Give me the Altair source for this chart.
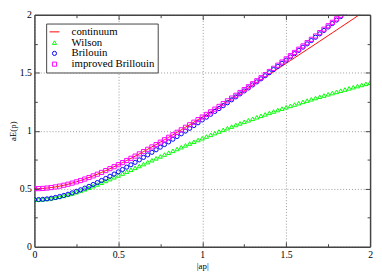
import altair as alt
import pandas as pd

# |ap| sampling grid
P = [0.0, 0.025, 0.05, 0.075, 0.1, 0.125, 0.15, 0.175, 0.2, 0.225,
     0.25, 0.275, 0.3, 0.325, 0.35, 0.375, 0.4, 0.425, 0.45, 0.475,
     0.5, 0.525, 0.55, 0.575, 0.6, 0.625, 0.65, 0.675, 0.7, 0.725,
     0.75, 0.775, 0.8, 0.825, 0.85, 0.875, 0.9, 0.925, 0.95, 0.975,
     1.0, 1.025, 1.05, 1.075, 1.1, 1.125, 1.15, 1.175, 1.2, 1.225,
     1.25, 1.275, 1.3, 1.325, 1.35, 1.375, 1.4, 1.425, 1.45, 1.475,
     1.5, 1.525, 1.55, 1.575, 1.6, 1.625, 1.65, 1.675, 1.7, 1.725,
     1.75, 1.775, 1.8, 1.825, 1.85, 1.875, 1.9, 1.925, 1.95, 1.975,
     2.0]

CONTINUUM = [0.5000, 0.5006, 0.5025, 0.5056, 0.5099, 0.5154, 0.5220, 0.5297, 0.5385, 0.5483,
             0.5590, 0.5706, 0.5831, 0.5963, 0.6103, 0.6250, 0.6403, 0.6562, 0.6727, 0.6897,
             0.7071, 0.7250, 0.7433, 0.7620, 0.7810, 0.8004, 0.8201, 0.8400, 0.8602, 0.8807,
             0.9014, 0.9223, 0.9434, 0.9647, 0.9862, 1.0078, 1.0296, 1.0515, 1.0736, 1.0957,
             1.1180, 1.1405, 1.1630, 1.1856, 1.2083, 1.2311, 1.2540, 1.2770, 1.3000, 1.3231,
             1.3463, 1.3695, 1.3928, 1.4162, 1.4396, 1.4631, 1.4866, 1.5102, 1.5338, 1.5574,
             1.5811, 1.6049, 1.6287, 1.6525, 1.6763, 1.7002, 1.7241, 1.7480, 1.7720, 1.7960,
             1.8200, 1.8441, 1.8682, 1.8923, 1.9164, 1.9405, 1.9647, 1.9889, 2.0131]

WILSON = [0.4055, 0.4062, 0.4083, 0.4118, 0.4166, 0.4227, 0.4301, 0.4385, 0.4480, 0.4585,
          0.4698, 0.4819, 0.4948, 0.5083, 0.5223, 0.5367, 0.5517, 0.5670, 0.5826, 0.5984,
          0.6144, 0.6306, 0.6469, 0.6633, 0.6798, 0.6962, 0.7127, 0.7292, 0.7456, 0.7620,
          0.7783, 0.7945, 0.8106, 0.8266, 0.8425, 0.8583, 0.8739, 0.8894, 0.9047, 0.9199,
          0.9349, 0.9498, 0.9645, 0.9791, 0.9935, 1.0077, 1.0218, 1.0357, 1.0495, 1.0631,
          1.0765, 1.0898, 1.1029, 1.1159, 1.1287, 1.1413, 1.1539, 1.1662, 1.1784, 1.1905,
          1.2024, 1.2142, 1.2258, 1.2373, 1.2487, 1.2599, 1.2710, 1.2820, 1.2928, 1.3036,
          1.3142, 1.3247, 1.3350, 1.3453, 1.3554, 1.3654, 1.3753, 1.3851, 1.3948, 1.4044,
          1.4139]

BRILLOUIN = [0.4055, 0.4062, 0.4085, 0.4124, 0.4177, 0.4244, 0.4325, 0.4419, 0.4524, 0.4640,
             0.4767, 0.4903, 0.5049, 0.5203, 0.5364, 0.5532, 0.5706, 0.5886, 0.6071, 0.6261,
             0.6456, 0.6655, 0.6857, 0.7062, 0.7272, 0.7483, 0.7698, 0.7915, 0.8136, 0.8358,
             0.8582, 0.8808, 0.9037, 0.9267, 0.9499, 0.9733, 0.9969, 1.0206, 1.0445, 1.0685,
             1.0927, 1.1170, 1.1415, 1.1662, 1.1910, 1.2159, 1.2410, 1.2662, 1.2916, 1.3172,
             1.3429, 1.3687, 1.3947, 1.4209, 1.4472, 1.4737, 1.5004, 1.5272, 1.5542, 1.5814,
             1.6088, 1.6364, 1.6642, 1.6922, 1.7204, 1.7488, 1.7774, 1.8062, 1.8353, 1.8646,
             1.8942, 1.9240, 1.9540, 1.9842, 2.0146]

IMPROVED = [0.5000, 0.5006, 0.5025, 0.5056, 0.5099, 0.5154, 0.5220, 0.5297, 0.5385, 0.5483,
            0.5590, 0.5706, 0.5831, 0.5963, 0.6103, 0.6250, 0.6403, 0.6562, 0.6727, 0.6897,
            0.7071, 0.7250, 0.7433, 0.7620, 0.7810, 0.8004, 0.8201, 0.8400, 0.8602, 0.8807,
            0.9014, 0.9223, 0.9434, 0.9647, 0.9862, 1.0078, 1.0296, 1.0515, 1.0736, 1.0957,
            1.1180, 1.1405, 1.1630, 1.1860, 1.2095, 1.2335, 1.2575, 1.2815, 1.3055, 1.3298,
            1.3545, 1.3795, 1.4050, 1.4310, 1.4570, 1.4838, 1.5110, 1.5380, 1.5650, 1.5922,
            1.6196, 1.6472, 1.6750, 1.7030, 1.7312, 1.7596, 1.7882, 1.8170, 1.8461, 1.8754,
            1.9050, 1.9348, 1.9648, 1.9950, 2.0254]

SERIES = ["continuum", "Wilson", "Brilouin", "improved Brillouin"]
COLORS = ["#ff0000", "#00ff00", "#0000ff", "#ff00ff"]
SHAPES = ["M-2.4,0L2.4,0", "triangle-up", "circle", "square"]

X_LABELS = [0, 0.5, 1, 1.5, 2]
MINOR = [0.25, 0.75, 1.25, 1.75]
MAJOR = [0.5, 1, 1.5]

W, H = 343, 237
FRAME = "#444444"
SERIF = "Liberation Serif"

cont_df = pd.DataFrame({"p": P[:len(CONTINUUM)], "E": CONTINUUM, "series": SERIES[0]})
pts_df = pd.concat([
    pd.DataFrame({"p": P[:len(WILSON)], "E": WILSON, "series": SERIES[1]}),
    pd.DataFrame({"p": P[:len(BRILLOUIN)], "E": BRILLOUIN, "series": SERIES[2]}),
    pd.DataFrame({"p": P[:len(IMPROVED)], "E": IMPROVED, "series": SERIES[3]}),
], ignore_index=True)

xs = alt.Scale(domain=[0, 2], nice=False, zero=False)
ys = alt.Scale(domain=[0, 2], nice=False, zero=False)

legend = alt.Legend(title=None, orient="none", legendX=12, legendY=9,
                    fillColor="white", strokeColor=FRAME, padding=3, rowPadding=-1,
                    labelFont=SERIF, labelFontSize=11, labelColor="black",
                    labelOffset=12, symbolStrokeWidth=1, symbolSize=18)

color = alt.Color("series:N", scale=alt.Scale(domain=SERIES, range=COLORS), legend=legend)
shape = alt.Shape("series:N", scale=alt.Scale(domain=SERIES, range=SHAPES), legend=legend)


def main_axis(orient, title, pad):
    return alt.Axis(orient=orient, values=X_LABELS, format="~g", labelFlush=False,
                    labelFont=SERIF, labelFontSize=10, labelColor="black", labelPadding=3,
                    ticks=False, tickSize=0, domain=True, domainColor=FRAME, domainWidth=1.5,
                    grid=True, gridColor="#999999", gridDash=[1, 2], gridWidth=1,
                    title=title, titleFont=SERIF, titleFontSize=9, titleFontWeight="normal",
                    titleColor="black", titlePadding=pad)


def frame_axis(orient):
    return alt.Axis(orient=orient, labels=False, ticks=False, domain=True,
                    domainColor=FRAME, domainWidth=1.5, grid=False, title=None, zindex=1)


def tick_axis(orient, offset, values, tsize):
    return alt.Axis(orient=orient, offset=offset, values=values, tickSize=tsize,
                    tickColor=FRAME, tickWidth=1, labels=False, domain=False,
                    grid=False, title=None, zindex=1)


line = alt.Chart(cont_df).mark_line(strokeWidth=1, clip=True).encode(
    x=alt.X("p:Q", scale=xs, axis=main_axis("bottom", "|ap|", 2)),
    y=alt.Y("E:Q", scale=ys, axis=main_axis("left", "aE(p)", 2)),
    color=color,
)

points = alt.Chart(pts_df).mark_point(filled=False, opacity=1, strokeWidth=1, size=18,
                                      clip=True).encode(
    x=alt.X("p:Q", scale=xs, axis=frame_axis("top")),
    y=alt.Y("E:Q", scale=ys, axis=frame_axis("right")),
    color=color, shape=shape,
)

inv = alt.Chart(cont_df).mark_point(opacity=0)
t1 = inv.encode(x=alt.X("p:Q", scale=xs, axis=tick_axis("top", -H, MINOR, 3)),
                y=alt.Y("E:Q", scale=ys, axis=tick_axis("right", -W, MINOR, 3)))
t2 = inv.encode(x=alt.X("p:Q", scale=xs, axis=tick_axis("bottom", -H, MINOR, 3)),
                y=alt.Y("E:Q", scale=ys, axis=tick_axis("left", -W, MINOR, 3)))
t3 = inv.encode(x=alt.X("p:Q", scale=xs, axis=tick_axis("top", -H, MAJOR, 5)),
                y=alt.Y("E:Q", scale=ys, axis=tick_axis("right", -W, MAJOR, 5)))
t4 = inv.encode(x=alt.X("p:Q", scale=xs, axis=tick_axis("bottom", -H, MAJOR, 5)),
                y=alt.Y("E:Q", scale=ys, axis=tick_axis("left", -W, MAJOR, 5)))

chart = alt.layer(line, points, t1, t2, t3, t4).resolve_axis(
    x="independent", y="independent"
).properties(
    width=W, height=H,
    padding={"left": 27, "top": 4, "right": 4, "bottom": 24},
    autosize=alt.AutoSizeParams(type="none"),
).configure_view(strokeWidth=0)

chart.save("out.html", embed_options={"renderer": "svg", "actions": False})
